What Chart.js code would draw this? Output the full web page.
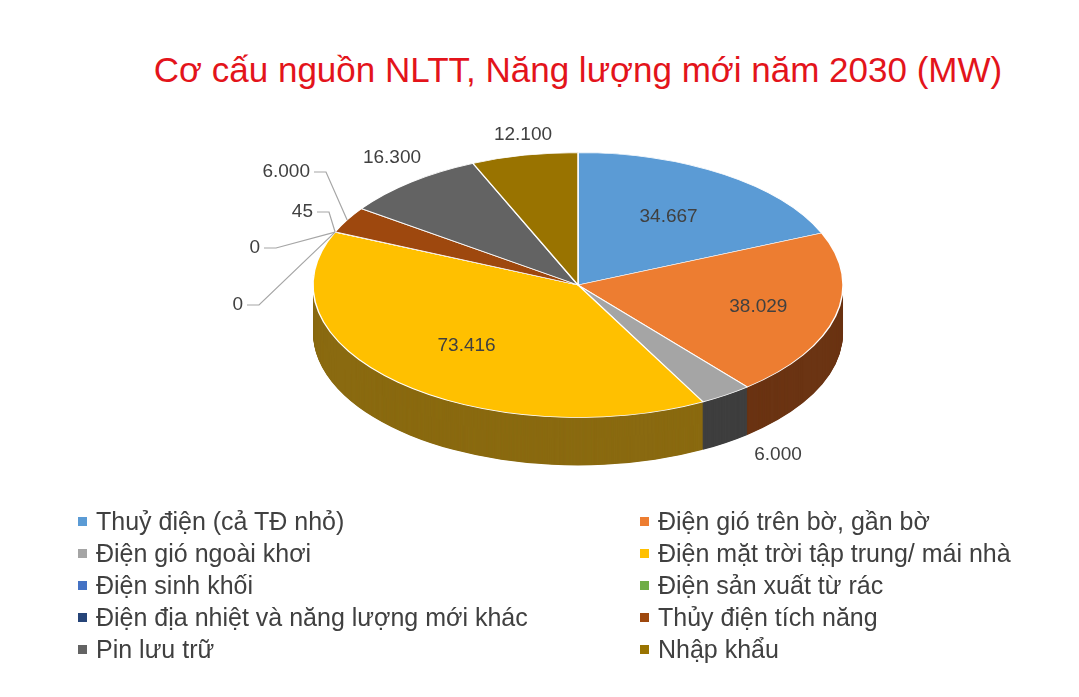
<!DOCTYPE html>
<html><head><meta charset="utf-8">
<script src="https://cdn.jsdelivr.net/npm/chart.js@4"></script>
<style>
body{margin:0;background:#fff;font-family:"Liberation Sans",Arial,sans-serif;}
#wrap{position:relative;width:1079px;height:697px;}
#title{position:absolute;top:50px;left:0;width:1156px;text-align:center;color:#E3141B;font-size:35px;}
canvas{position:absolute;left:0;top:0;}
#legend{position:absolute;left:78px;top:507px;width:1000px;font-size:25px;color:#404040;}
.it{position:absolute;white-space:nowrap;}
.mk{display:inline-block;width:9px;height:9px;margin-right:9px;vertical-align:middle;position:relative;top:-2px;}
</style></head><body>
<div id="wrap"><div id="title">Cơ cấu nguồn NLTT, Năng lượng mới năm 2030 (MW)</div>
<canvas id="c" width="1079" height="697"></canvas><div id="legend"></div></div>
<script>
const categories=["Thuỷ điện (cả TĐ nhỏ)","Điện gió trên bờ, gần bờ","Điện gió ngoài khơi","Điện mặt trời tập trung/ mái nhà","Điện sinh khối","Điện sản xuất từ rác","Điện địa nhiệt và năng lượng mới khác","Thủy điện tích năng","Pin lưu trữ","Nhập khẩu"];
const values=[34667,38029,6000,73416,0,0,45,6000,16300,12100];
const valueLabels=["34.667","38.029","6.000","73.416","0","0","45","6.000","16.300","12.100"];
const colors=["#5B9BD5","#ED7D31","#A5A5A5","#FFC000","#4472C4","#70AD47","#264478","#9E480E","#636363","#997300"];
const sideColors=["#3E6E9C","#6B3413","#3F3F3F","#8A6A10","#2E4E8A","#4C7A30","#18304F","#5E2A08","#3A3A3A","#6A5000"];

const SQ=0.5, DEPTH=48, CY=285;
const inside={0:0.62,1:0.7,3:0.62};
const outer={2:[200,170],8:[-186,-127],9:[-55,-150]};
const lead={4:[-335,20],5:[-318,-37],6:[-265,-73],7:[-268,-113]};

const plug={id:'p3d',
beforeDatasetsDraw(ch){
  const ctx=ch.ctx, arcs=ch.getDatasetMeta(0).data, a0=arcs[0];
  ctx.save();
  ctx.translate(a0.x,CY);ctx.scale(1,SQ);ctx.translate(-a0.x,-a0.y);
  for(let d=DEPTH/SQ;d>0;d-=1){
    arcs.forEach((a,i)=>{ if(!values[i])return;
      ctx.beginPath();ctx.moveTo(a.x,a.y+d);ctx.arc(a.x,a.y+d,a.outerRadius,a.startAngle,a.endAngle);ctx.closePath();
      ctx.fillStyle=sideColors[i];ctx.fill();});
  }
},
afterDatasetsDraw(ch){
  const ctx=ch.ctx;ctx.restore();
  const arcs=ch.getDatasetMeta(0).data;
  ctx.font='19px "Liberation Sans", Arial';ctx.fillStyle='#404040';ctx.textBaseline='middle';
  arcs.forEach((a,i)=>{
    const m=(a.startAngle+a.endAngle)/2, r=a.outerRadius, cx=a.x;
    if(inside[i]!==undefined){ctx.textAlign='center';
      ctx.fillText(valueLabels[i],cx+Math.cos(m)*r*inside[i],CY+Math.sin(m)*r*inside[i]*SQ);}
    else if(outer[i]){ctx.textAlign='center';ctx.fillText(valueLabels[i],cx+outer[i][0],CY+outer[i][1]);}
    else if(lead[i]){
      const ex=cx+Math.cos(m)*r, ey=CY+Math.sin(m)*r*SQ;
      const tx=cx+lead[i][0], ty=CY+lead[i][1];
      ctx.textAlign='right';ctx.fillText(valueLabels[i],tx,ty);
      ctx.strokeStyle='#A6A6A6';ctx.lineWidth=1.2;ctx.beginPath();
      ctx.moveTo(tx+4,ty);ctx.lineTo(tx+16,ty);ctx.lineTo(ex,ey);ctx.stroke();
    }
  });
}};
new Chart(document.getElementById('c'),{type:'pie',
 data:{labels:categories,datasets:[{data:values,backgroundColor:colors,borderColor:'#fff',borderWidth:1.5}]},
 options:{responsive:false,animation:false,radius:265,
  layout:{padding:{left:313,right:236,top:80,bottom:87}},
  plugins:{legend:{display:false},tooltip:{enabled:false}}},
 plugins:[plug]});
const lg=document.getElementById('legend');
categories.forEach((c,i)=>{const d=document.createElement('div');d.className='it';
 d.style.left=(i%2?562:0)+'px';d.style.top=(Math.floor(i/2)*32)+'px';
 d.innerHTML='<span class="mk" style="background:'+colors[i]+'"></span>'+c;lg.appendChild(d);});
</script></body></html>
